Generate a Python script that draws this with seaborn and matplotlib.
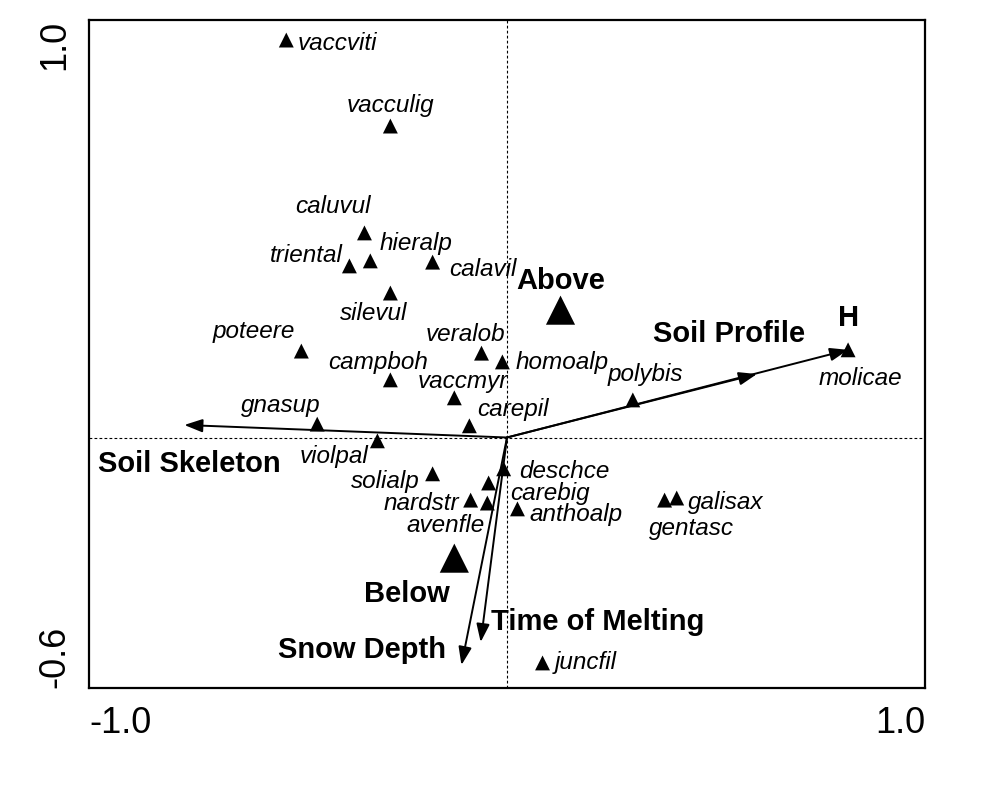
import numpy as np
import pandas as pd
import matplotlib
matplotlib.use("Agg")
import matplotlib.pyplot as plt
import seaborn as sns

# ---------------- data ----------------
species = ["vaccviti", "vacculig", "caluvul", "triental", "hieralp", "calavil",
           "silevul", "poteere", "veralob", "homoalp", "campboh", "vaccmyr",
           "polybis", "gnasup", "carepil", "violpal", "molicae", "solialp",
           "deschce", "carebig", "nardstr", "avenfle", "anthoalp", "galisax",
           "gentasc", "juncfil"]
sp_x = [-0.528, -0.279, -0.341, -0.377, -0.327, -0.178,
        -0.279, -0.492, -0.061, -0.011, -0.279, -0.126,
        0.301, -0.454, -0.090, -0.310, 0.816, -0.178,
        -0.008, -0.044, -0.087, -0.047, 0.025, 0.406,
        0.377, 0.085]
sp_y = [0.952, 0.746, 0.490, 0.411, 0.423, 0.420,
        0.346, 0.207, 0.202, 0.181, 0.138, 0.095,
        0.090, 0.032, 0.028, -0.008, 0.210, -0.087,
        -0.075, -0.109, -0.150, -0.157, -0.171, -0.145,
        -0.150, -0.540]

centroids = ["Above", "Below"]
cen_x = [0.128, -0.126]
cen_y = [0.305, -0.289]

env_vars = ["Soil Skeleton", "Soil Profile", "H", "Time of Melting", "Snow Depth"]
env_x = [-0.772, 0.598, 0.816, -0.063, -0.109]
env_y = [0.030, 0.152, 0.210, -0.490, -0.545]

x_ticks = [-1.0, -0.5, 0.0, 0.5, 1.0]
x_tick_labels = ["-1.0", "", "", "", "1.0"]
y_ticks = [-0.6, -0.4, -0.2, 0.0, 0.2, 0.4, 0.6, 0.8, 1.0]
y_tick_labels = ["-0.6", "", "", "", "", "", "", "", "1.0"]

# ---------------- label layout (pixel offsets) ----------------
sp_off = {
    "vaccviti": (11, -3, "left"), "vacculig": (0, 21, "center"),
    "caluvul": (-32, 26, "center"), "triental": (-7, 10, "right"),
    "hieralp": (9, 17, "left"), "calavil": (17, -7, "left"),
    "silevul": (-17, -20, "center"), "poteere": (-48, 20, "center"),
    "veralob": (-16, 19, "center"), "homoalp": (13, -1, "left"),
    "campboh": (-12, 17, "center"), "vaccmyr": (9, 16, "center"),
    "polybis": (13, 25, "center"), "gnasup": (-36, 19, "center"),
    "carepil": (8, 16, "left"), "violpal": (-43, -16, "center"),
    "molicae": (12, -29, "center"), "solialp": (-47, -8, "center"),
    "deschce": (16, -3, "left"), "carebig": (22, -10, "left"),
    "nardstr": (-49, -3, "center"), "avenfle": (-42, -22, "center"),
    "anthoalp": (12, -6, "left"), "galisax": (11, -4, "left"),
    "gentasc": (27, -28, "center"), "juncfil": (12, 0, "left"),
}
cen_off = {"Above": (0, 29), "Below": (-47, -36)}
env_off = {"Soil Skeleton": (5, -39), "Soil Profile": (-28, 40), "H": (0, 32),
           "Time of Melting": (117, 20), "Snow Depth": (-99, 15)}

# ---------------- plotting ----------------
sns.set_style("white")
plt.rcParams["font.family"] = ["Liberation Sans", "DejaVu Sans"]
plt.rcParams["text.color"] = "black"
plt.rcParams["xtick.color"] = "black"
plt.rcParams["ytick.color"] = "black"

fig = plt.figure(figsize=(9.82, 7.85), dpi=100)
ax = fig.add_axes([89 / 982, 1 - 688 / 785, (925 - 89) / 982, (688 - 20) / 785])

ax.axhline(0, color="black", lw=0.8, ls=(0, (2.5, 2)), zorder=1)
ax.axvline(0, color="black", lw=0.8, ls=(0, (2.5, 2)), zorder=1)

# arrows
for name, ex, ey in zip(env_vars, env_x, env_y):
    ax.annotate("", xy=(ex, ey), xytext=(0, 0),
                arrowprops=dict(arrowstyle="-|>,head_length=0.55,head_width=0.2",
                                mutation_scale=20, color="black", lw=1.4,
                                shrinkA=0, shrinkB=0), zorder=3)
    dx, dy = env_off[name]
    ax.annotate(name, xy=(ex, ey), xytext=(dx, dy), textcoords="offset pixels",
                ha="center", va="center", fontsize=21, fontweight="bold",
                color="black", zorder=5)

sp_df = pd.DataFrame({"species": species, "x": sp_x, "y": sp_y})
cen_df = pd.DataFrame({"name": centroids, "x": cen_x, "y": cen_y})

sns.scatterplot(data=sp_df, x="x", y="y", marker="^", s=115, color="black",
                edgecolor="none", ax=ax, zorder=4, legend=False)
sns.scatterplot(data=cen_df, x="x", y="y", marker="^", s=440, color="black",
                edgecolor="none", ax=ax, zorder=4, legend=False)

for name, px, py in zip(species, sp_x, sp_y):
    dx, dy, ha = sp_off[name]
    ax.annotate(name, xy=(px, py), xytext=(dx, dy), textcoords="offset pixels",
                ha=ha, va="center", fontsize=17.5, fontstyle="italic",
                color="black", zorder=5)

for name, px, py in zip(centroids, cen_x, cen_y):
    dx, dy = cen_off[name]
    ax.annotate(name, xy=(px, py), xytext=(dx, dy), textcoords="offset pixels",
                ha="center", va="center", fontsize=21, fontweight="bold",
                color="black", zorder=5)

ax.set_xlim(-1.0, 1.0)
ax.set_ylim(-0.6, 1.0)
ax.set_xticks(x_ticks, x_tick_labels)
ax.set_yticks(y_ticks, y_tick_labels)
ax.set_xlabel("")
ax.set_ylabel("")
ax.tick_params(axis="both", direction="inout", length=8, width=1.3,
               labelsize=26, colors="black")
ax.tick_params(axis="x", pad=9)
ax.tick_params(axis="y", pad=8, labelrotation=90)

xt = ax.xaxis.get_major_ticks()
xt[0].label1.set_ha("left")
xt[-1].label1.set_ha("right")
yt = ax.yaxis.get_major_ticks()
yt[0].label1.set_va("bottom")
yt[-1].label1.set_va("top")

for sp in ax.spines.values():
    sp.set_visible(True)
    sp.set_color("black")
    sp.set_linewidth(1.6)

fig.savefig("out.png", dpi=100, facecolor="white")
